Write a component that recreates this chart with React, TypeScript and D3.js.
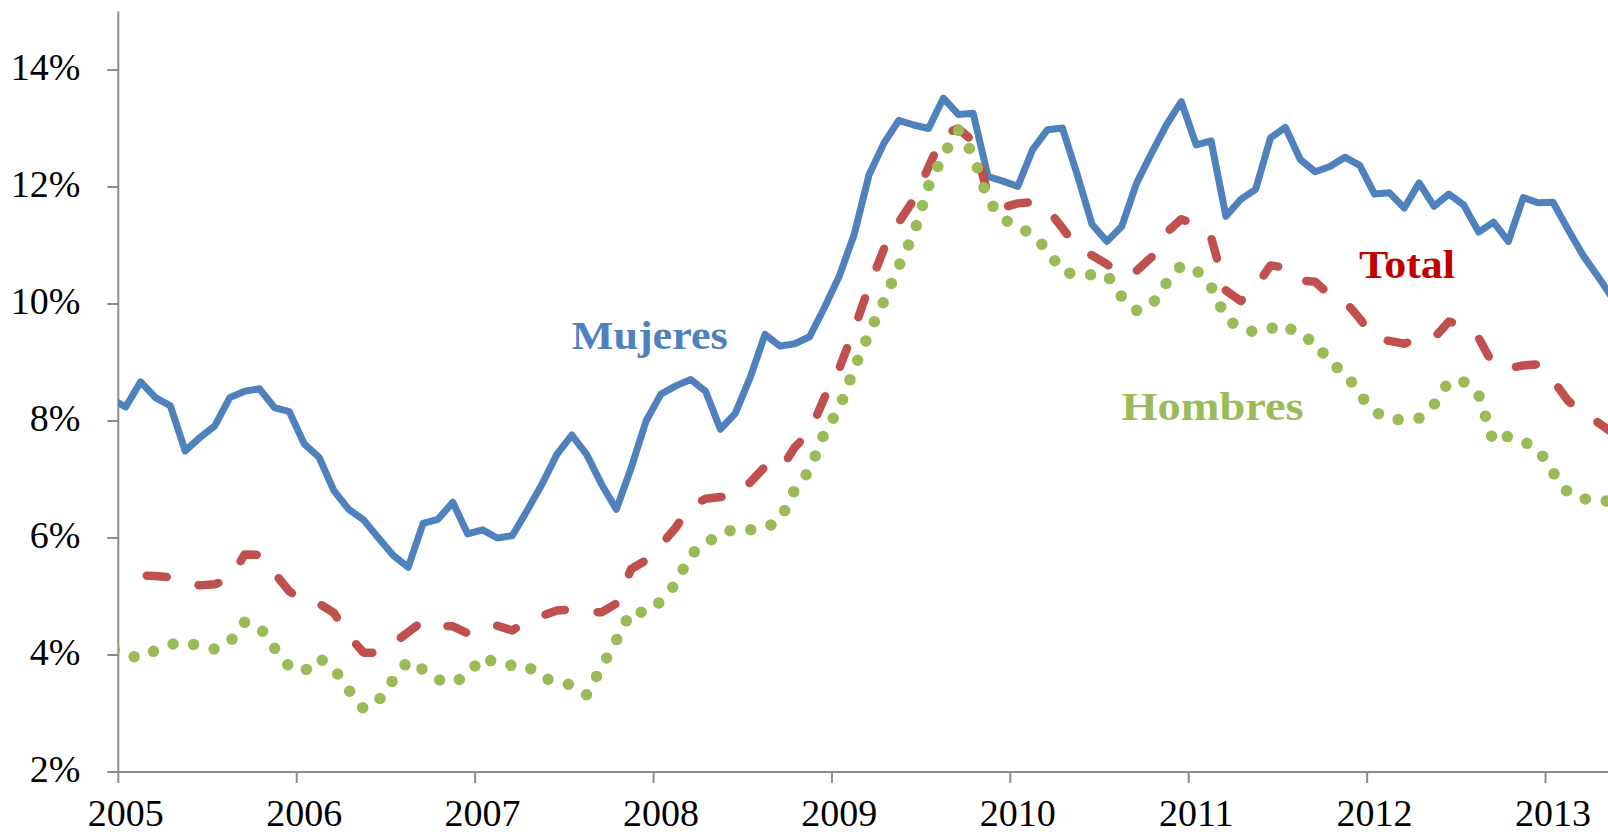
import * as d3 from 'd3';

// monthly series, first value = Dec 2004 (drawn at mid-month, clipped at the axis)
const firstMonth = -1;
const years = [2005, 2006, 2007, 2008, 2009, 2010, 2011, 2012, 2013];
const yTicks = [2, 4, 6, 8, 10, 12, 14];

const mujeres = [
  8.38, 8.24, 8.67, 8.40, 8.26, 7.49, 7.72, 7.92, 8.40, 8.51, 8.55, 8.23, 8.16,
  7.61, 7.38, 6.81, 6.49, 6.31, 6.00, 5.70, 5.50, 6.25, 6.32, 6.61, 6.07, 6.14,
  6.00, 6.04, 6.47, 6.92, 7.43, 7.76, 7.43, 6.92, 6.49, 7.20, 8.00, 8.46, 8.60,
  8.71, 8.51, 7.86, 8.13, 8.74, 9.48, 9.28, 9.32, 9.44, 9.94, 10.48, 11.19, 12.21,
  12.75, 13.14, 13.06, 13.00, 13.52, 13.24, 13.26, 12.18, 12.10, 12.01, 12.64, 12.98,
  13.01, 12.21, 11.36, 11.07, 11.33, 12.07, 12.58, 13.06, 13.46, 12.72, 12.79, 11.50,
  11.79, 11.96, 12.84, 13.02, 12.47, 12.26, 12.35, 12.51, 12.37, 11.88, 11.90, 11.64,
  12.07, 11.67, 11.88, 11.69, 11.23, 11.40, 11.07, 11.82, 11.73, 11.74, 11.28, 10.84,
  10.48, 10.10,
];

const total = [
  5.32, 5.34, 5.36, 5.35, 5.33, 5.24, 5.19, 5.21, 5.30, 5.72, 5.71, 5.40, 5.09,
  4.91, 4.88, 4.72, 4.33, 4.04, 4.04, 4.20, 4.39, 4.58, 4.50, 4.49, 4.37, 4.50,
  4.50, 4.42, 4.58, 4.67, 4.76, 4.78, 4.74, 4.73, 4.88, 5.47, 5.62, 5.88, 6.18,
  6.55, 6.67, 6.70, 6.72, 6.95, 7.22, 7.15, 7.55, 7.81, 8.40, 8.90, 9.57, 10.30,
  10.94, 11.40, 11.78, 12.34, 12.90, 13.00, 12.78, 11.88, 11.65, 11.72, 11.74, 11.62,
  11.30, 10.96, 10.83, 10.68, 10.48, 10.57, 10.80, 11.22, 11.45, 11.36, 11.14, 10.23,
  10.05, 10.29, 10.66, 10.62, 10.40, 10.38, 10.15, 10.05, 9.75, 9.41, 9.37, 9.32,
  9.42, 9.42, 9.70, 9.64, 9.42, 8.95, 8.90, 8.95, 8.97, 8.70, 8.35, 8.13,
  7.98, 7.80,
];

const hombres = [
  4.12, 4.00, 3.95, 4.08, 4.18, 4.22, 4.15, 4.10, 4.22, 4.56, 4.48, 4.12, 3.80,
  3.72, 3.95, 3.77, 3.40, 3.08, 3.22, 3.58, 3.90, 3.75, 3.58, 3.52, 3.66, 3.97,
  3.85, 3.82, 3.82, 3.60, 3.56, 3.48, 3.32, 3.79, 4.25, 4.75, 4.72, 4.92, 5.22,
  5.72, 5.90, 6.08, 6.15, 6.14, 6.17, 6.30, 6.83, 7.16, 7.80, 8.22, 8.90, 9.50,
  10.05, 10.65, 11.20, 12.02, 12.55, 12.97, 12.55, 11.78, 11.45, 11.33, 11.18, 10.92,
  10.55, 10.50, 10.50, 10.50, 10.12, 9.89, 9.98, 10.36, 10.66, 10.58, 10.30, 9.76,
  9.57, 9.52, 9.58, 9.65, 9.43, 9.37, 8.98, 8.84, 8.45, 8.16, 8.03, 8.02,
  8.05, 8.28, 8.68, 8.67, 8.45, 7.64, 7.74, 7.65, 7.52, 7.12, 6.78, 6.67,
  6.65, 6.62,
];

// series labels, placed in data units (month index, value)
const labels = [
  { text: 'Mujeres', month: 30.5, value: 9.23, color: '#4F81BD', len: 156 },
  { text: 'Total', month: 83.45, value: 10.44, color: '#C00000', len: 96 },
  { text: 'Hombres', month: 67.48, value: 8.01, color: '#9BBB59', len: 182 },
];

const W = 1608;
const H = 835;
const left = 118.3;
const font = '"Liberation Serif", "Times New Roman", serif';
const axisColor = '#8c8c8c';

const x = d3.scaleLinear().domain([0, 100.2]).range([left, W]);
const y = d3.scaleLinear().domain([2, 14]).range([772, 70]);

const line = d3
  .line<number>()
  .x((_, i) => x(firstMonth + i + 0.5))
  .y((d) => y(d));

export default function App() {
  return (
    <div style={{ position: 'absolute', left: 0, top: 0 }}>
      <svg width={W} height={H} style={{ display: 'block', background: '#fff' }}>
        <defs>
          <clipPath id="plot">
            <rect x={left} y={0} width={W - left} height={H} />
          </clipPath>
        </defs>

        {/* axes */}
        <line x1={left} x2={left} y1={y(15)} y2={y(2)} stroke={axisColor} strokeWidth={2} />
        <line x1={left} x2={W} y1={y(2)} y2={y(2)} stroke={axisColor} strokeWidth={2} />
        {yTicks.map((t) => (
          <g key={t}>
            <line x1={left - 11} x2={left} y1={y(t)} y2={y(t)} stroke={axisColor} strokeWidth={2} />
            <text x={80.5} y={y(t) + 10} textAnchor="end" fontFamily={font} fontSize={38} fill="#000">
              {t}%
            </text>
          </g>
        ))}
        {years.map((yr, i) => (
          <g key={yr}>
            <line x1={x(i * 12)} x2={x(i * 12)} y1={y(2)} y2={y(2) + 11} stroke={axisColor} strokeWidth={2} />
            <text x={x(i * 12 + 0.5)} y={826} textAnchor="middle" fontFamily={font} fontSize={38} fill="#000">
              {yr}
            </text>
          </g>
        ))}

        {/* series */}
        <g clipPath="url(#plot)" fill="none">
          <path
            d={line(mujeres) ?? ''}
            stroke="#4F81BD"
            strokeWidth={7}
            strokeLinejoin="round"
          />
          <path
            d={line(total) ?? ''}
            stroke="#C0504D"
            strokeWidth={8.5}
            strokeLinejoin="round"
            strokeLinecap="round"
            strokeDasharray="20 33"
            strokeDashoffset={17}
          />
          <path
            d={line(hombres) ?? ''}
            stroke="#9BBB59"
            strokeWidth={11.5}
            strokeLinejoin="round"
            strokeLinecap="round"
            strokeDasharray="0 21"
            strokeDashoffset={17}
          />
        </g>

        {labels.map((l) => (
          <text
            key={l.text}
            x={x(l.month)}
            y={y(l.value)}
            fontFamily={font}
            fontWeight="bold"
            fontSize={41}
            fill={l.color}
            textLength={l.len}
            lengthAdjust="spacingAndGlyphs"
          >
            {l.text}
          </text>
        ))}
      </svg>
    </div>
  );
}
